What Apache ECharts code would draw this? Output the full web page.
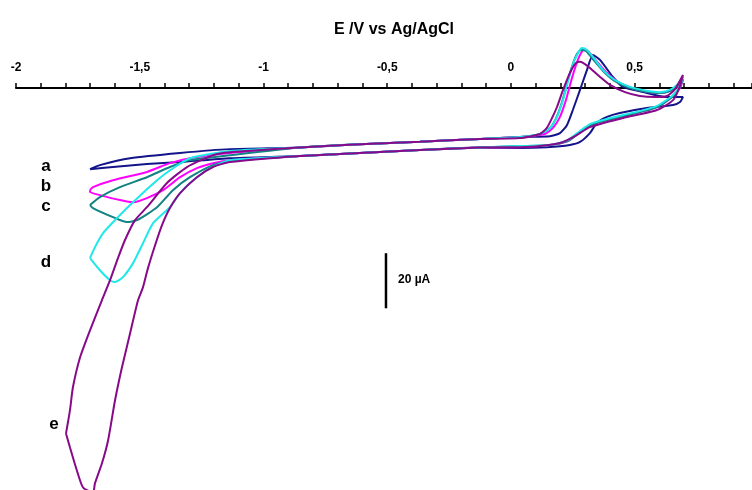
<!DOCTYPE html>
<html>
<head>
<meta charset="utf-8">
<script src="https://cdn.jsdelivr.net/npm/echarts@6/dist/echarts.min.js"></script>
<style>html,body{margin:0;padding:0;background:#fff}#c{width:752px;height:490px}</style>
</head>
<body>
<div id="c"></div>
<script>
// Potential E (V vs Ag/AgCl), current (µA)
const axisTitle = 'E /V vs Ag/AgCl';
const curveLabels = ['a', 'b', 'c', 'd', 'e'];
const scaleBarLabel = '20 µA';
const scaleBar = [[-0.505, -40], [-0.505, -60]];

const midUpper = [[-0.853,-1.6],[-0.610,-0.4],[-0.368,0.5],[-0.125,1.5]];
const midLower = [[-0.125,-1.6],[-0.368,-2.5],[-0.610,-3.6],[-0.853,-4.7]];

// a (navy)
const leftUpperA = [[-1.701,-9.5],[-1.661,-8.0],[-1.539,-5.5],[-1.337,-3.6],[-1.135,-2.2]];
const rightA = [[0.036,2.2],[0.158,2.5],[0.198,3.6],[0.226,6.5],[0.250,12.0],[0.279,19.3],[0.307,26.5],[0.331,32.0],[0.360,30.2],[0.412,24.0],[0.453,20.4],[0.549,18.2],[0.630,16.7],[0.695,16.7],[0.683,14.9],[0.655,13.8],[0.549,12.7],[0.440,10.9],[0.388,9.5],[0.347,7.3],[0.319,3.6],[0.279,0.4],[0.238,-0.7],[0.145,-1.5],[0.036,-1.8]];
const leftLowerA = [[-1.135,-5.5],[-1.337,-6.9],[-1.471,-7.6],[-1.608,-8.7],[-1.701,-9.5]];

// b (magenta)
const leftUpperB = [[-1.701,-17.1],[-1.689,-16.0],[-1.608,-13.5],[-1.471,-10.5],[-1.378,-7.3],[-1.297,-5.5],[-1.135,-3.6]];
const rightB = [[0.036,2.2],[0.137,3.3],[0.170,5.5],[0.198,9.5],[0.222,15.6],[0.242,22.2],[0.263,28.4],[0.279,32.0],[0.295,33.8],[0.315,33.1],[0.339,30.5],[0.380,26.2],[0.428,22.5],[0.489,20.0],[0.554,18.5],[0.602,18.2],[0.642,18.9],[0.675,20.7],[0.695,22.9],[0.683,20.0],[0.651,16.7],[0.590,13.1],[0.521,11.3],[0.453,9.8],[0.372,8.0],[0.319,6.5],[0.279,4.0],[0.230,0.7],[0.158,-0.7],[0.036,-1.5]];
const leftLowerB = [[-1.135,-6.2],[-1.204,-7.3],[-1.269,-9.1],[-1.337,-12.4],[-1.406,-17.1],[-1.471,-20.0],[-1.527,-21.5],[-1.580,-20.7],[-1.661,-18.9],[-1.701,-17.8],[-1.701,-17.1]];

// c (teal)
const leftUpperC = [[-1.701,-22.5],[-1.661,-19.6],[-1.580,-16.0],[-1.471,-12.4],[-1.378,-8.7],[-1.297,-6.2],[-1.135,-4.4]];
const rightC = [[0.036,2.2],[0.117,3.3],[0.158,5.5],[0.186,9.8],[0.210,16.0],[0.230,22.9],[0.250,28.7],[0.267,32.4],[0.283,33.8],[0.303,33.5],[0.327,30.9],[0.372,26.2],[0.420,22.5],[0.481,20.0],[0.554,18.5],[0.602,18.2],[0.642,18.9],[0.675,21.1],[0.695,23.3],[0.683,20.4],[0.651,16.7],[0.590,13.1],[0.521,11.3],[0.453,9.8],[0.372,8.0],[0.319,6.5],[0.279,4.0],[0.230,0.7],[0.158,-0.7],[0.036,-1.1]];
const leftLowerC = [[-1.135,-6.5],[-1.204,-8.0],[-1.297,-12.4],[-1.366,-17.1],[-1.430,-23.3],[-1.511,-28.0],[-1.552,-28.7],[-1.608,-26.9],[-1.689,-23.6],[-1.701,-22.5]];

// d (cyan)
const leftUpperD = [[-1.701,-41.8],[-1.681,-37.8],[-1.648,-32.7],[-1.600,-28.0],[-1.539,-22.5],[-1.430,-13.5],[-1.358,-8.7],[-1.297,-5.5],[-1.135,-2.9]];
const rightD = [[0.036,2.2],[0.117,3.3],[0.158,5.5],[0.186,9.5],[0.210,15.6],[0.230,22.2],[0.250,28.4],[0.271,32.7],[0.287,34.5],[0.307,33.8],[0.331,31.3],[0.372,26.5],[0.420,22.9],[0.481,20.4],[0.554,18.9],[0.602,18.5],[0.642,19.3],[0.675,21.5],[0.695,24.0],[0.683,20.7],[0.651,17.1],[0.590,13.5],[0.521,11.6],[0.453,10.2],[0.372,8.4],[0.319,6.9],[0.279,4.4],[0.230,1.1],[0.158,-0.7],[0.036,-1.1]];
const leftLowerD = [[-1.135,-6.2],[-1.216,-9.1],[-1.297,-14.5],[-1.337,-18.2],[-1.378,-23.3],[-1.446,-29.1],[-1.487,-36.4],[-1.527,-43.6],[-1.568,-48.7],[-1.600,-50.5],[-1.620,-49.8],[-1.661,-46.2],[-1.701,-41.8]];

// e (purple)
const leftUpperE = [[-1.798,-105.5],[-1.782,-97.1],[-1.770,-88.7],[-1.741,-77.8],[-1.701,-68.0],[-1.653,-57.1],[-1.620,-49.8],[-1.588,-41.8],[-1.560,-35.3],[-1.519,-28.0],[-1.471,-23.3],[-1.390,-14.5],[-1.309,-8.7],[-1.204,-4.4],[-1.135,-3.3]];
const rightE = [[0.036,1.8],[0.117,3.3],[0.145,5.5],[0.166,9.1],[0.186,13.1],[0.206,18.2],[0.226,22.9],[0.246,26.9],[0.263,29.1],[0.279,29.5],[0.299,28.7],[0.319,27.3],[0.360,24.0],[0.400,21.1],[0.461,18.5],[0.521,17.1],[0.582,16.7],[0.630,17.1],[0.663,19.6],[0.695,24.7],[0.683,20.7],[0.655,15.6],[0.590,12.0],[0.453,9.1],[0.319,5.8],[0.259,2.5],[0.198,0.0],[0.117,-1.1],[0.036,-1.5]];
const leftLowerE = [[-1.135,-6.9],[-1.204,-8.7],[-1.269,-12.4],[-1.337,-18.2],[-1.378,-23.6],[-1.410,-29.8],[-1.438,-37.1],[-1.467,-45.5],[-1.487,-52.4],[-1.507,-57.1],[-1.539,-69.1],[-1.572,-81.5],[-1.600,-93.5],[-1.628,-108.0],[-1.653,-116.4],[-1.681,-123.6],[-1.689,-126.9],[-1.729,-125.1],[-1.754,-118.9],[-1.782,-110.5],[-1.798,-105.5]];

const loops = [
  leftUpperA.concat(midUpper, rightA, midLower, leftLowerA),
  leftUpperB.concat(midUpper, rightB, midLower, leftLowerB),
  leftUpperC.concat(midUpper, rightC, midLower, leftLowerC),
  leftUpperD.concat(midUpper, rightD, midLower, leftLowerD),
  leftUpperE.concat(midUpper, rightE, midLower, leftLowerE)
];
const colors = ['#14148a', '#ff00ff', '#128282', '#1ee8e8', '#880a8a'];
const labelY = [166, 186, 206, 262, 424];
const labelX = [46, 46, 46, 46, 54];

const FONT = '"Liberation Sans", Arial, sans-serif';
const chart = echarts.init(document.getElementById('c'), null, {renderer: 'canvas'});
const series = loops.map((d, k) => ({
  type: 'line', data: d, showSymbol: false, smooth: 0.2, silent: true, clip: false,
  lineStyle: {color: colors[k], width: 2}, z: 2 + k
}));
series.push({
  type: 'line', data: scaleBar, showSymbol: false, silent: true, clip: false,
  lineStyle: {color: '#000', width: 2.5}, z: 10
});
chart.setOption({
  animation: false,
  grid: {left: 16, right: 0, top: 88, bottom: 0, containLabel: false},
  xAxis: {
    type: 'value', position: 'top', min: -2, max: 0.974, interval: 0.5,
    axisLine: {show: true, onZero: false, lineStyle: {color: '#000', width: 2}},
    axisTick: {show: true, length: 5, lineStyle: {color: '#000', width: 1.5}},
    minorTick: {show: true, splitNumber: 5, length: 5, lineStyle: {color: '#000', width: 1.5}},
    splitLine: {show: false},
    axisLabel: {
      margin: 14, color: '#000', fontWeight: 'bold', fontSize: 12, fontFamily: FONT,
      showMaxLabel: false,
      formatter: v => (v > 0.9 ? '' : String(v).replace('.', ','))
    }
  },
  yAxis: {type: 'value', min: -126, max: 20, show: false},
  series: series,
  graphic: [
    {type: 'text', x: 394, y: 30, style: {text: axisTitle, font: 'bold 16px ' + FONT, fill: '#000', textAlign: 'center', textVerticalAlign: 'middle'}},
    {type: 'text', x: 398, y: 280, style: {text: scaleBarLabel, font: 'bold 12px ' + FONT, fill: '#000', textAlign: 'left', textVerticalAlign: 'middle'}}
  ].concat(curveLabels.map((t, k) => ({
    type: 'text', x: labelX[k], y: labelY[k],
    style: {text: t, font: 'bold 17px ' + FONT, fill: '#000', textAlign: 'center', textVerticalAlign: 'middle'}
  })))
});
</script>
</body>
</html>
